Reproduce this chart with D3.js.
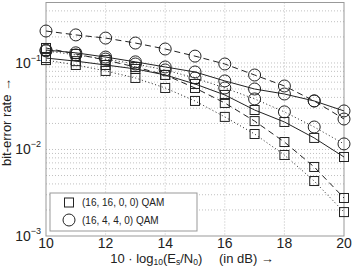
<!DOCTYPE html>
<html>
<head>
<meta charset="utf-8">
<script src="https://cdn.jsdelivr.net/npm/d3@7"></script>
<style>
  body { margin: 0; background: #fff; }
  svg { display: block; font-family: "Liberation Sans", Arial, sans-serif; }
</style>
</head>
<body>
<div id="chart"></div>
<script>
// Es/N0 in dB
const snr = [10, 11, 12, 13, 14, 15, 16, 17, 18, 19, 20];

// (16,4,4,0) QAM — circles
const circDashed = [0.234, 0.211, 0.194, 0.170, 0.145, 0.120, 0.0973, 0.0726, 0.0542, 0.0364, 0.0225];
const circSolid  = [0.141, 0.131, 0.117, 0.103, 0.0899, 0.0787, 0.0620, 0.0500, 0.0438, 0.0364, 0.0279];
const circDotted = [0.138, 0.124, 0.111, 0.0973, 0.0830, 0.0671, 0.0514, 0.0384, 0.0272, 0.0182, 0.0116];

// (16,16,0,0) QAM — squares
const sqSolid  = [0.114, 0.105, 0.0948, 0.0853, 0.0727, 0.0572, 0.0427, 0.0286, 0.0208, 0.0136, 0.00819];
const sqDashed = [0.149, 0.127, 0.108, 0.0899, 0.0727, 0.0514, 0.0345, 0.0213, 0.0122, 0.00628, 0.00275];
const sqDotted = [0.108, 0.0948, 0.0809, 0.0671, 0.0514, 0.0364, 0.0238, 0.0151, 0.00864, 0.00432, 0.00189];

const xTicks = [10, 12, 14, 16, 18, 20];
const yTicks = [1e-3, 1e-2, 1e-1];
const legendLabels = ["(16, 16, 0, 0) QAM", "(16, 4, 4, 0) QAM"];

(function() {
  const width = 353, height = 268;
  const margin = { left: 46, right: 9, top: 2.5, bottom: 32 };

  const svg = d3.select("#chart").append("svg")
    .attr("width", width)
    .attr("height", height);

  const x = d3.scaleLinear().domain([10, 20]).range([margin.left, width - margin.right]);
  const y = d3.scaleLog().domain([1e-3, 0.5]).range([height - margin.bottom, margin.top]);

  const gridColor = "#b0b0b0";

  // vertical grid
  svg.append("g").selectAll("line")
    .data(xTicks.slice(1, -1))
    .enter().append("line")
    .attr("x1", d => x(d)).attr("x2", d => x(d))
    .attr("y1", y.range()[1]).attr("y2", y.range()[0])
    .attr("stroke", gridColor).attr("stroke-width", 0.8)
    .attr("stroke-dasharray", "1,2");

  // horizontal grid on every log step
  const minor = [];
  [1e-3, 1e-2, 1e-1].forEach(dec => {
    for (let k = 1; k <= 9; k++) {
      const v = dec * k;
      if (v > 1e-3 && v <= 0.5) minor.push(v);
    }
  });
  svg.append("g").selectAll("line")
    .data(minor)
    .enter().append("line")
    .attr("x1", x.range()[0]).attr("x2", x.range()[1])
    .attr("y1", d => y(d)).attr("y2", d => y(d))
    .attr("stroke", gridColor).attr("stroke-width", 0.8)
    .attr("stroke-dasharray", "1,2");

  // frame
  svg.append("rect")
    .attr("x", x.range()[0]).attr("y", y.range()[1])
    .attr("width", x.range()[1] - x.range()[0])
    .attr("height", y.range()[0] - y.range()[1])
    .attr("fill", "none")
    .attr("stroke", "#999").attr("stroke-width", 1);

  // x tick labels
  svg.append("g").selectAll("text")
    .data(xTicks)
    .enter().append("text")
    .attr("x", d => x(d))
    .attr("y", y.range()[0] + 12)
    .attr("text-anchor", "middle")
    .attr("font-size", "14px")
    .attr("fill", "#222")
    .text(d => d);

  // y tick labels with superscripts
  const yl = svg.append("g").selectAll("text")
    .data(yTicks)
    .enter().append("text")
    .attr("x", x.range()[0] - 5)
    .attr("y", d => y(d) + 5)
    .attr("text-anchor", "end")
    .attr("font-size", "14px")
    .attr("fill", "#222");
  yl.append("tspan").text("10");
  yl.append("tspan")
    .attr("dy", -7)
    .attr("font-size", "9px")
    .text(d => "\u2212" + Math.round(-Math.log10(d)));

  // axis titles
  const xt = svg.append("text")
    .attr("x", 192).attr("y", 263)
    .attr("text-anchor", "middle")
    .attr("font-size", "13px")
    .attr("fill", "#222");
  xt.append("tspan").text("10 \u00b7 log");
  xt.append("tspan").attr("font-size", "8.5px").attr("dy", 2).text("10");
  xt.append("tspan").attr("dy", -2).text("(E");
  xt.append("tspan").attr("font-size", "8.5px").attr("dy", 2).text("s");
  xt.append("tspan").attr("dy", -2).text("/N");
  xt.append("tspan").attr("font-size", "8.5px").attr("dy", 2).text("0");
  xt.append("tspan").attr("dy", -2).text(")\u2003 (in dB) \u2192");

  svg.append("text")
    .attr("transform", `translate(11, 122) rotate(-90)`)
    .attr("text-anchor", "middle")
    .attr("font-size", "13px")
    .attr("fill", "#222")
    .text("bit-error rate \u2192");

  // series
  const series = [
    { values: sqDotted, marker: "square", dash: "1,2.5" },
    { values: sqDashed, marker: "square", dash: "6,4" },
    { values: sqSolid, marker: "square", dash: null },
    { values: circDotted, marker: "circle", dash: "1,2.5" },
    { values: circSolid, marker: "circle", dash: null },
    { values: circDashed, marker: "circle", dash: "6,4" }
  ];

  const line = d3.line()
    .x((d, i) => x(snr[i]))
    .y(d => y(d));

  const plot = svg.append("g");
  series.forEach(s => {
    plot.append("path")
      .datum(s.values)
      .attr("d", line)
      .attr("fill", "none")
      .attr("stroke", "#222")
      .attr("stroke-width", 1)
      .attr("stroke-dasharray", s.dash);

    const pts = plot.append("g").selectAll(".m")
      .data(s.values)
      .enter();
    if (s.marker === "square") {
      pts.append("rect")
        .attr("x", (d, i) => x(snr[i]) - 4.5)
        .attr("y", d => y(d) - 4.5)
        .attr("width", 9).attr("height", 9)
        .attr("fill", "none")
        .attr("stroke", "#222").attr("stroke-width", 1);
    } else {
      pts.append("circle")
        .attr("cx", (d, i) => x(snr[i]))
        .attr("cy", d => y(d))
        .attr("r", 6)
        .attr("fill", "none")
        .attr("stroke", "#222").attr("stroke-width", 1);
    }
  });

  // legend
  const lg = svg.append("g");
  lg.append("rect")
    .attr("x", 50).attr("y", 193)
    .attr("width", 147).attr("height", 38)
    .attr("fill", "#fff")
    .attr("stroke", "#999").attr("stroke-width", 1);

  lg.append("rect")
    .attr("x", 64.5).attr("y", 198)
    .attr("width", 9).attr("height", 9)
    .attr("fill", "none").attr("stroke", "#222");
  lg.append("circle")
    .attr("cx", 69).attr("cy", 220).attr("r", 6)
    .attr("fill", "none").attr("stroke", "#222");

  lg.selectAll(".lt")
    .data(legendLabels)
    .enter().append("text")
    .attr("x", 82)
    .attr("y", (d, i) => 206 + i * 18)
    .attr("font-size", "10px")
    .attr("fill", "#222")
    .text(d => d);
})();
</script>
</body>
</html>
